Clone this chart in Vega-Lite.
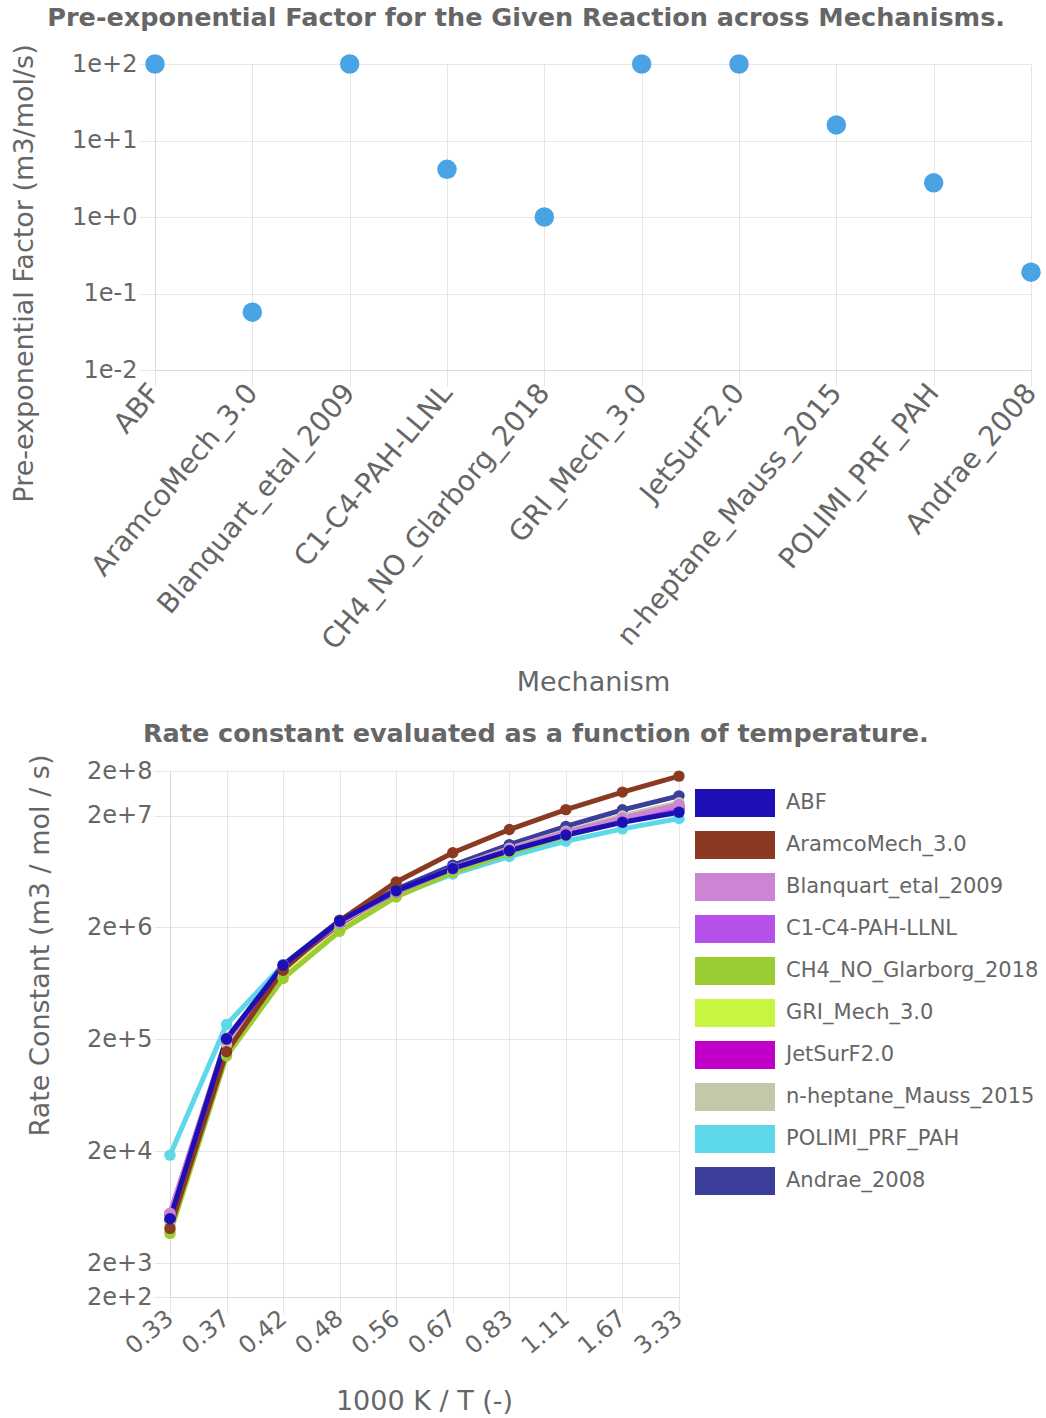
{
  "$schema": "https://vega.github.io/schema/vega-lite/v6.json",
  "background": "white",
  "padding": {"top": 6, "left": 10, "right": 4, "bottom": 2},
  "columns": 1,
  "align": "none",
  "spacing": 26,
  "resolve": {"legend": {"color": "independent"}, "scale": {"color": "independent"}},
  "config": {
    "font": "DejaVu Sans",
    "view": {"stroke": null},
    "axis": {
      "labelColor": "#666666", "titleColor": "#666666",
      "labelFont": "DejaVu Sans", "titleFont": "DejaVu Sans",
      "labelFontSize": 24, "titleFontSize": 27, "titleFontWeight": "normal",
      "gridColor": "#e6e6e6", "tickColor": "#e6e6e6", "domainColor": "#d9d9d9",
      "tickSize": 16, "labelPadding": 2, "labelLimit": 0
    },
    "legend": {"labelLimit": 0},
    "title": {"font": "DejaVu Sans", "fontSize": 25.5, "fontWeight": "bold", "color": "#666666", "offset": 12, "anchor": "middle", "frame": "bounds"}
  },
  "concat": [
    {
      "title": "Pre-exponential Factor for the Given Reaction across Mechanisms.",
      "width": 876,
      "height": 306,
      "data": {"values": [
        {"Mechanism": "ABF", "A": 100},
        {"Mechanism": "AramcoMech_3.0", "A": 0.057},
        {"Mechanism": "Blanquart_etal_2009", "A": 100},
        {"Mechanism": "C1-C4-PAH-LLNL", "A": 4.2},
        {"Mechanism": "CH4_NO_Glarborg_2018", "A": 1.0},
        {"Mechanism": "GRI_Mech_3.0", "A": 100},
        {"Mechanism": "JetSurF2.0", "A": 100},
        {"Mechanism": "n-heptane_Mauss_2015", "A": 16},
        {"Mechanism": "POLIMI_PRF_PAH", "A": 2.8},
        {"Mechanism": "Andrae_2008", "A": 0.19}
      ]},
      "mark": {"type": "point", "filled": true, "size": 380, "opacity": 1, "color": "#4aa3e5"},
      "encoding": {
        "x": {
          "field": "Mechanism", "type": "nominal", "sort": null,
          "scale": {"type": "point", "padding": 0},
          "axis": {"labelAngle": -50, "labelAlign": "right", "labelBaseline": "middle", "labelFontSize": 28, "title": "Mechanism", "titleBaseline": "middle", "titleY": 312, "grid": true}
        },
        "y": {
          "field": "A", "type": "quantitative",
          "scale": {"type": "log", "domain": [0.01, 100], "nice": false},
          "axis": {"values": [0.01, 0.1, 1, 10, 100], "format": ".0e", "title": "Pre-exponential Factor (m3/mol/s)", "titlePadding": 33, "titleY": 209}
        }
      }
    },
    {
      "title": {"text": "Rate constant evaluated as a function of temperature.", "dx": 3, "offset": 7},
      "width": 524,
      "height": 526,
      "data": {"values": [
        {"mechanism": "Andrae_2008", "x": "0.33", "k": 4900},
        {"mechanism": "Andrae_2008", "x": "0.37", "k": 200000},
        {"mechanism": "Andrae_2008", "x": "0.42", "k": 930000},
        {"mechanism": "Andrae_2008", "x": "0.48", "k": 2320000},
        {"mechanism": "Andrae_2008", "x": "0.56", "k": 4400000},
        {"mechanism": "Andrae_2008", "x": "0.67", "k": 7200000},
        {"mechanism": "Andrae_2008", "x": "0.83", "k": 11000000},
        {"mechanism": "Andrae_2008", "x": "1.11", "k": 16000000},
        {"mechanism": "Andrae_2008", "x": "1.67", "k": 22500000},
        {"mechanism": "Andrae_2008", "x": "3.33", "k": 30000000},
        {"mechanism": "POLIMI_PRF_PAH", "x": "0.33", "k": 18500},
        {"mechanism": "POLIMI_PRF_PAH", "x": "0.37", "k": 272000},
        {"mechanism": "POLIMI_PRF_PAH", "x": "0.42", "k": 930000},
        {"mechanism": "POLIMI_PRF_PAH", "x": "0.48", "k": 2100000},
        {"mechanism": "POLIMI_PRF_PAH", "x": "0.56", "k": 3850000},
        {"mechanism": "POLIMI_PRF_PAH", "x": "0.67", "k": 6000000},
        {"mechanism": "POLIMI_PRF_PAH", "x": "0.83", "k": 8600000},
        {"mechanism": "POLIMI_PRF_PAH", "x": "1.11", "k": 11800000},
        {"mechanism": "POLIMI_PRF_PAH", "x": "1.67", "k": 15200000},
        {"mechanism": "POLIMI_PRF_PAH", "x": "3.33", "k": 18800000},
        {"mechanism": "n-heptane_Mauss_2015", "x": "0.33", "k": 4500},
        {"mechanism": "n-heptane_Mauss_2015", "x": "0.37", "k": 180000},
        {"mechanism": "n-heptane_Mauss_2015", "x": "0.42", "k": 850000},
        {"mechanism": "n-heptane_Mauss_2015", "x": "0.48", "k": 2150000},
        {"mechanism": "n-heptane_Mauss_2015", "x": "0.56", "k": 4150000},
        {"mechanism": "n-heptane_Mauss_2015", "x": "0.67", "k": 6800000},
        {"mechanism": "n-heptane_Mauss_2015", "x": "0.83", "k": 10200000},
        {"mechanism": "n-heptane_Mauss_2015", "x": "1.11", "k": 14500000},
        {"mechanism": "n-heptane_Mauss_2015", "x": "1.67", "k": 19800000},
        {"mechanism": "n-heptane_Mauss_2015", "x": "3.33", "k": 26000000},
        {"mechanism": "JetSurF2.0", "x": "0.33", "k": 5500},
        {"mechanism": "JetSurF2.0", "x": "0.37", "k": 200000},
        {"mechanism": "JetSurF2.0", "x": "0.42", "k": 880000},
        {"mechanism": "JetSurF2.0", "x": "0.48", "k": 2150000},
        {"mechanism": "JetSurF2.0", "x": "0.56", "k": 4100000},
        {"mechanism": "JetSurF2.0", "x": "0.67", "k": 6600000},
        {"mechanism": "JetSurF2.0", "x": "0.83", "k": 9600000},
        {"mechanism": "JetSurF2.0", "x": "1.11", "k": 13500000},
        {"mechanism": "JetSurF2.0", "x": "1.67", "k": 17800000},
        {"mechanism": "JetSurF2.0", "x": "3.33", "k": 23000000},
        {"mechanism": "GRI_Mech_3.0", "x": "0.33", "k": 3800},
        {"mechanism": "GRI_Mech_3.0", "x": "0.37", "k": 145000},
        {"mechanism": "GRI_Mech_3.0", "x": "0.42", "k": 720000},
        {"mechanism": "GRI_Mech_3.0", "x": "0.48", "k": 1900000},
        {"mechanism": "GRI_Mech_3.0", "x": "0.56", "k": 3850000},
        {"mechanism": "GRI_Mech_3.0", "x": "0.67", "k": 6400000},
        {"mechanism": "GRI_Mech_3.0", "x": "0.83", "k": 9700000},
        {"mechanism": "GRI_Mech_3.0", "x": "1.11", "k": 13800000},
        {"mechanism": "GRI_Mech_3.0", "x": "1.67", "k": 18800000},
        {"mechanism": "GRI_Mech_3.0", "x": "3.33", "k": 24500000},
        {"mechanism": "CH4_NO_Glarborg_2018", "x": "0.33", "k": 3700},
        {"mechanism": "CH4_NO_Glarborg_2018", "x": "0.37", "k": 142000},
        {"mechanism": "CH4_NO_Glarborg_2018", "x": "0.42", "k": 700000},
        {"mechanism": "CH4_NO_Glarborg_2018", "x": "0.48", "k": 1850000},
        {"mechanism": "CH4_NO_Glarborg_2018", "x": "0.56", "k": 3750000},
        {"mechanism": "CH4_NO_Glarborg_2018", "x": "0.67", "k": 6200000},
        {"mechanism": "CH4_NO_Glarborg_2018", "x": "0.83", "k": 9300000},
        {"mechanism": "CH4_NO_Glarborg_2018", "x": "1.11", "k": 13200000},
        {"mechanism": "CH4_NO_Glarborg_2018", "x": "1.67", "k": 17800000},
        {"mechanism": "CH4_NO_Glarborg_2018", "x": "3.33", "k": 23000000},
        {"mechanism": "C1-C4-PAH-LLNL", "x": "0.33", "k": 5400},
        {"mechanism": "C1-C4-PAH-LLNL", "x": "0.37", "k": 200000},
        {"mechanism": "C1-C4-PAH-LLNL", "x": "0.42", "k": 890000},
        {"mechanism": "C1-C4-PAH-LLNL", "x": "0.48", "k": 2200000},
        {"mechanism": "C1-C4-PAH-LLNL", "x": "0.56", "k": 4150000},
        {"mechanism": "C1-C4-PAH-LLNL", "x": "0.67", "k": 6700000},
        {"mechanism": "C1-C4-PAH-LLNL", "x": "0.83", "k": 9800000},
        {"mechanism": "C1-C4-PAH-LLNL", "x": "1.11", "k": 13800000},
        {"mechanism": "C1-C4-PAH-LLNL", "x": "1.67", "k": 18200000},
        {"mechanism": "C1-C4-PAH-LLNL", "x": "3.33", "k": 23500000},
        {"mechanism": "Blanquart_etal_2009", "x": "0.33", "k": 5600},
        {"mechanism": "Blanquart_etal_2009", "x": "0.37", "k": 205000},
        {"mechanism": "Blanquart_etal_2009", "x": "0.42", "k": 900000},
        {"mechanism": "Blanquart_etal_2009", "x": "0.48", "k": 2200000},
        {"mechanism": "Blanquart_etal_2009", "x": "0.56", "k": 4200000},
        {"mechanism": "Blanquart_etal_2009", "x": "0.67", "k": 6800000},
        {"mechanism": "Blanquart_etal_2009", "x": "0.83", "k": 10000000},
        {"mechanism": "Blanquart_etal_2009", "x": "1.11", "k": 14200000},
        {"mechanism": "Blanquart_etal_2009", "x": "1.67", "k": 19000000},
        {"mechanism": "Blanquart_etal_2009", "x": "3.33", "k": 25000000},
        {"mechanism": "AramcoMech_3.0", "x": "0.33", "k": 4100},
        {"mechanism": "AramcoMech_3.0", "x": "0.37", "k": 155000},
        {"mechanism": "AramcoMech_3.0", "x": "0.42", "k": 830000},
        {"mechanism": "AramcoMech_3.0", "x": "0.48", "k": 2300000},
        {"mechanism": "AramcoMech_3.0", "x": "0.56", "k": 5100000},
        {"mechanism": "AramcoMech_3.0", "x": "0.67", "k": 9300000},
        {"mechanism": "AramcoMech_3.0", "x": "0.83", "k": 15000000},
        {"mechanism": "AramcoMech_3.0", "x": "1.11", "k": 22600000},
        {"mechanism": "AramcoMech_3.0", "x": "1.67", "k": 32400000},
        {"mechanism": "AramcoMech_3.0", "x": "3.33", "k": 45000000},
        {"mechanism": "ABF", "x": "0.33", "k": 5000},
        {"mechanism": "ABF", "x": "0.37", "k": 203000},
        {"mechanism": "ABF", "x": "0.42", "k": 920000},
        {"mechanism": "ABF", "x": "0.48", "k": 2280000},
        {"mechanism": "ABF", "x": "0.56", "k": 4250000},
        {"mechanism": "ABF", "x": "0.67", "k": 6750000},
        {"mechanism": "ABF", "x": "0.83", "k": 9700000},
        {"mechanism": "ABF", "x": "1.11", "k": 13400000},
        {"mechanism": "ABF", "x": "1.67", "k": 17400000},
        {"mechanism": "ABF", "x": "3.33", "k": 21400000}
      ]},
      "mark": {"type": "line", "strokeWidth": 5, "point": {"filled": true, "size": 130, "opacity": 1}},
      "encoding": {
        "x": {
          "field": "x", "type": "ordinal",
          "sort": ["0.33", "0.37", "0.42", "0.48", "0.56", "0.67", "0.83", "1.11", "1.67", "3.33"],
          "scale": {"type": "point", "padding": 0, "range": [15, 524]},
          "axis": {"labelAngle": -40, "labelAlign": "right", "labelBaseline": "middle", "title": "1000 K / T (-)", "titleBaseline": "middle", "titleY": 104, "titleX": 269, "grid": true}
        },
        "y": {
          "field": "k", "type": "quantitative",
          "scale": {"type": "log", "domain": [1000, 50000000], "nice": false},
          "axis": {
            "offset": -15,
            "values": [1000, 2000, 20000, 200000, 2000000, 20000000, 50000000],
            "labelExpr": "datum.value < 1500 ? '2e+2' : datum.value > 30000000 ? '2e+8' : format(datum.value, '.0e')",
            "title": "Rate Constant (m3 / mol / s)", "titlePadding": 32, "titleY": 174
          }
        },
        "color": {
          "field": "mechanism", "type": "nominal",
          "scale": {
            "domain": ["ABF", "AramcoMech_3.0", "Blanquart_etal_2009", "C1-C4-PAH-LLNL", "CH4_NO_Glarborg_2018", "GRI_Mech_3.0", "JetSurF2.0", "n-heptane_Mauss_2015", "POLIMI_PRF_PAH", "Andrae_2008"],
            "range": ["#1c10b4", "#8b3a22", "#cc85d4", "#b550e8", "#9acd32", "#c8f542", "#c000c8", "#c3c8aa", "#5dd8e8", "#3b3f9a"]
          },
          "legend": {
            "orient": "none", "legendX": 566, "legendY": 18, "title": null, "padding": 0,
            "labelFont": "DejaVu Sans", "labelFontSize": 21, "labelColor": "#666666", "labelLimit": 0,
            "symbolType": "M-2.857,-1L2.857,-1L2.857,1L-2.857,1Z", "symbolSize": 784,
            "symbolStrokeWidth": 0, "symbolOpacity": 1, "labelOffset": 37, "rowPadding": 14,
            "encode": {"symbols": {"update": {"fill": {"scale": "color", "field": "value"}, "stroke": {"value": "transparent"}, "strokeWidth": {"value": 0}}}}
          }
        }
      }
    }
  ]
}
